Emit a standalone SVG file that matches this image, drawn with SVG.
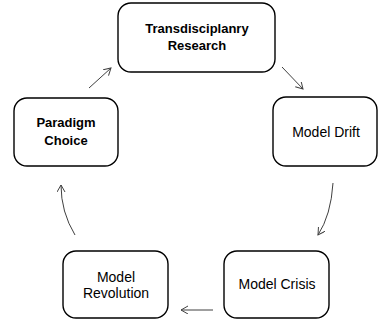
<svg xmlns="http://www.w3.org/2000/svg" width="379" height="320" viewBox="0 0 379 320">
  <style>
    .box { fill: #ffffff; stroke: #000000; stroke-width: 1.4; }
    .lbl { font-family: "Liberation Sans", Arial, sans-serif; font-size: 14px; fill: #000000; text-anchor: middle; }
    .bold { font-size: 13px; font-weight: bold; }
    .link { fill: none; stroke: #404040; stroke-width: 1; marker-end: url(#head); }
  </style>
  <defs>
    <marker id="head" markerUnits="userSpaceOnUse" markerWidth="10" markerHeight="10" refX="7" refY="4" orient="auto">
      <path d="M0,0 L7,4 L0,8" fill="none" stroke="#404040" stroke-width="1"/>
    </marker>
  </defs>
  <rect width="379" height="320" fill="#ffffff"/>

  <g id="connectors">
    <path class="link" d="M89,88 L111,68"/>
    <path class="link" d="M282,67 L303,89"/>
    <path class="link" d="M333,183 Q331,215 318,235"/>
    <path class="link" d="M213,310 L181,310"/>
    <path class="link" d="M75,235 Q61,212 61,185"/>
  </g>

  <g id="transdisciplinary-research">
    <rect class="box" x="118" y="3" width="157" height="69" rx="13"/>
    <text class="lbl bold" x="197" y="33">Transdisciplanry</text>
    <text class="lbl bold" x="197" y="50">Research</text>
  </g>

  <g id="model-drift">
    <rect class="box" x="273" y="97" width="104" height="69" rx="13"/>
    <text class="lbl" x="326" y="137">Model Drift</text>
  </g>

  <g id="model-crisis">
    <rect class="box" x="224" y="251" width="105" height="67" rx="13"/>
    <text class="lbl" x="277" y="289">Model Crisis</text>
  </g>

  <g id="model-revolution">
    <rect class="box" x="63" y="251" width="105" height="67" rx="13"/>
    <text class="lbl" x="116" y="282">Model</text>
    <text class="lbl" x="116" y="298">Revolution</text>
  </g>

  <g id="paradigm-choice">
    <rect class="box" x="14" y="98" width="104" height="68" rx="13"/>
    <text class="lbl bold" x="66" y="127">Paradigm</text>
    <text class="lbl bold" x="66" y="145">Choice</text>
  </g>
</svg>
